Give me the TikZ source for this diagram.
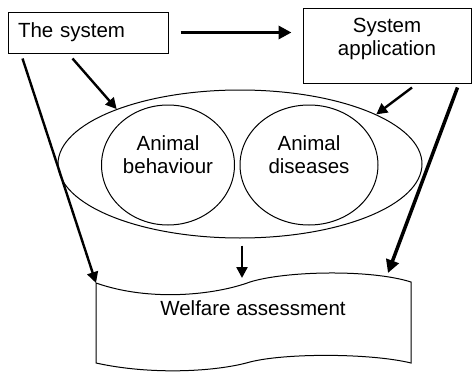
\documentclass[tikz,border=0pt]{standalone}
\usepackage{fontspec}
\setmainfont{Liberation Sans}
\usetikzlibrary{shapes.geometric,arrows.meta}

\begin{document}
\begin{tikzpicture}[x=1pt,y=-1pt,line width=1pt,font=\fontsize{20.5}{23}\selectfont,
  arr/.style={-{Triangle[length=11pt,width=11pt]},line width=2.4pt},
  bigarr/.style={-{Triangle[length=13pt,width=13pt]},line width=3.5pt}]
%\draw[help lines,step=20] (0,0) grid (472,372);
\useasboundingbox (0,0) rectangle (472,372);

\node[draw,minimum height=41pt,text width=140pt,inner sep=10pt,align=left] (sys) at (88,32.5) {The system};
\node[draw,minimum width=168pt,minimum height=75pt,label={[align=center,yshift=6.5pt]center:System\\application}] (app) at (387,45.5) {};

\node[draw,ellipse,minimum width=364pt,minimum height=148pt,inner sep=0pt] (outer) at (240,164) {};
\foreach \n/\x/\w/\t in {beh/168/133/{Animal\\behaviour}, dis/309/138/{Animal\\diseases}}
  \node[draw,ellipse,minimum width=\w pt,minimum height=120pt,inner sep=0pt,
    label={[align=center,yshift=10pt]center:\t}] (\n) at (\x,165) {};

% welfare assessment (wavy sheet)
\draw (96,283) .. controls (150,302) and (215,295) .. (250,282)
  .. controls (285,271) and (370,269) .. (411,282) -- (411,363)
  .. controls (370,353) and (285,353) .. (250,362)
  .. controls (215,372) and (150,375) .. (96,363) -- cycle;
\node (wel) at (253,308) {Welfare assessment};
\coordinate (wl) at (96,283);
\coordinate (wm) at (242,278);
\coordinate (wr) at (388,273);

\draw[bigarr,shorten <=12pt,shorten >=11pt] (sys.east) -- (sys.east -| app.west);
\draw[arr] ([xshift=15pt,yshift=-5pt]sys.south west) -- (wl);
\draw[arr] ([xshift=65pt,yshift=-5pt]sys.south west) -- (outer.156);
\draw[arr] ([xshift=25pt,yshift=-4pt]app.south) -- (outer.20);
\draw[bigarr] ([xshift=-14pt,yshift=-4pt]app.south east) -- (wr);
\draw[arr] ([xshift=2pt,yshift=-7pt]outer.south) -- (wm);
\end{tikzpicture}
\end{document}
